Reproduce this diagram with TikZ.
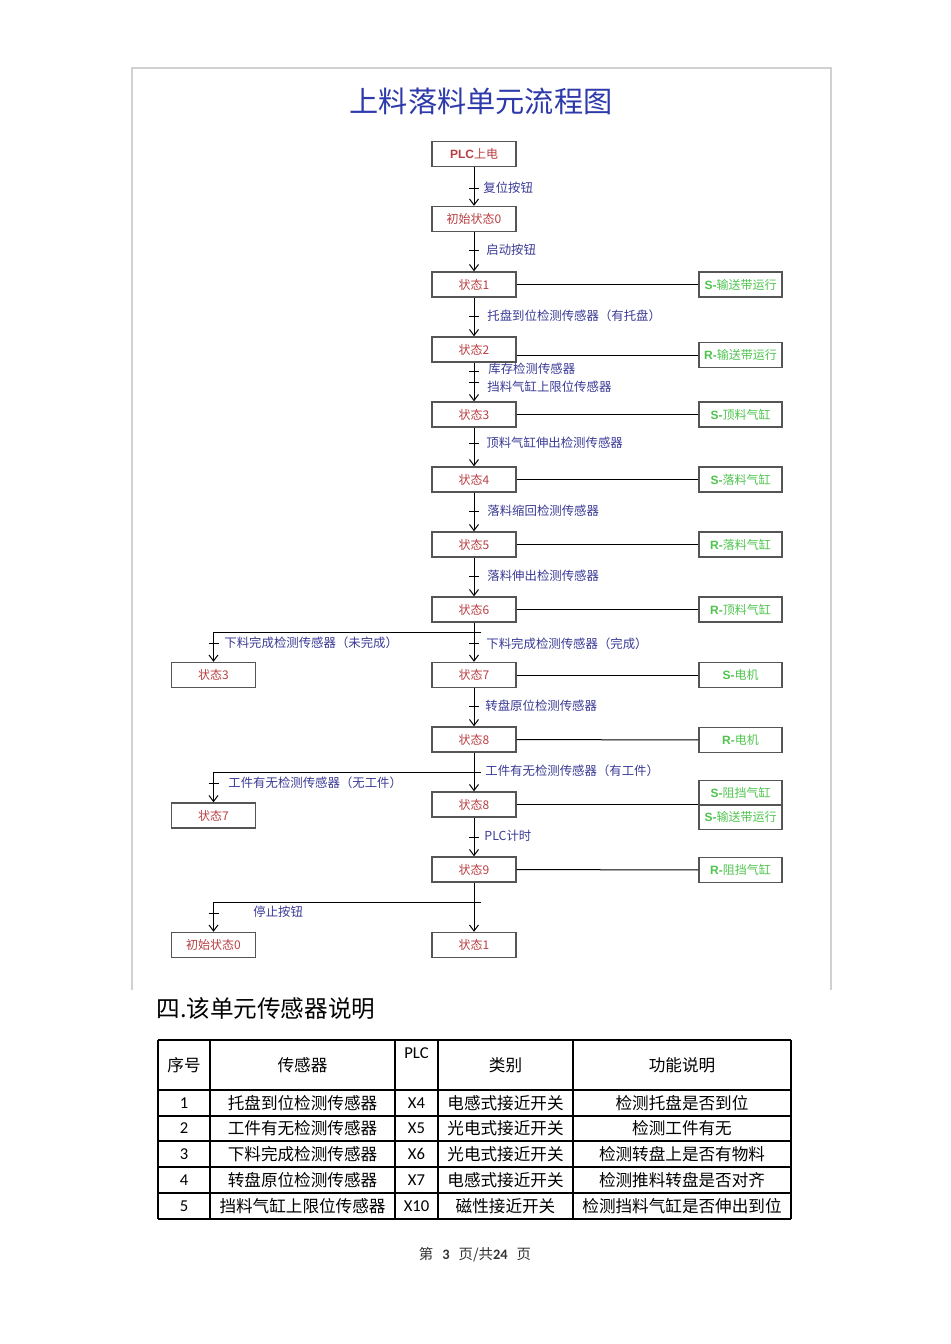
\documentclass[tikz,border=0pt]{standalone}
\usepackage{fontspec}
\newfontfamily\cjk{Noto Sans CJK SC}
\newfontfamily\arialf{Liberation Sans}
\newfontfamily\carl{Carlito}
\usetikzlibrary{arrows.meta}
\definecolor{titleblue}{RGB}{46,58,170}
\definecolor{statered}{RGB}{185,62,66}
\definecolor{actgreen}{RGB}{78,196,78}
\definecolor{condblue}{RGB}{58,58,150}
\definecolor{boxgray}{RGB}{85,85,85}
\tikzset{
	stbox/.style={draw=boxgray, line width=0.7pt, minimum width=42pt, minimum height=12.5pt,
		inner sep=0pt, text=statered, font=\cjk\fontsize{6}{7}\selectfont},
	actbox/.style={stbox, text=actgreen, minimum width=41.5pt},
	cond/.style={anchor=west, inner sep=0pt, text=condblue, font=\cjk\fontsize{6.2}{7}\selectfont},
	flow/.style={line width=0.5pt, -{Straight Barb[length=3pt,width=4.5pt]}},
	link/.style={line width=0.5pt},
	tabtxt/.style={inner sep=0pt, font=\cjk\fontsize{8.3}{9}\selectfont},
}
\newcommand{\lat}[1]{{\arialf\bfseries #1}}

\begin{document}
\begin{tikzpicture}[x=0.5pt, y=-0.5pt, every node/.style={font=\cjk}]
	\useasboundingbox (0,0) rectangle (950,1344);

	% frame of the flow chart
	\draw[black!18, line width=0.6pt] (132,990) -- (132,68) -- (831,68) -- (831,990);
	\node[text=titleblue, font=\cjk\fontsize{14.6}{16}\selectfont] (title) at (481,101) {上料落料单元流程图};

	% main column
	\node[stbox] (plc) at (474,154) {\lat{PLC}上电};
	\node[stbox] (init) at (474,219) {初始状态0};
	\node[stbox] (s1) at (474,284.5) {状态1};
	\node[stbox] (s2) at (474,349.5) {状态2};
	\node[stbox] (s3) at (474,414.5) {状态3};
	\node[stbox] (s4) at (474,479.5) {状态4};
	\node[stbox] (s5) at (474,544.5) {状态5};
	\node[stbox] (s6) at (474,609.5) {状态6};
	\node[stbox] (s7) at (474,675) {状态7};
	\node[stbox] (s8a) at (474,739.5) {状态8};
	\node[stbox] (s8b) at (474,804.5) {状态8};
	\node[stbox] (s9) at (474,869.5) {状态9};
	\node[stbox] (s1b) at (474,945) {状态1};

	% left column
	\node[stbox] (l3) at (213.5,675) {状态3};
	\node[stbox] (l7) at (213.5,815.5) {状态7};
	\node[stbox] (l0) at (213.5,945) {初始状态0};

	% actions
	\node[actbox] (a1) at (740.5,284.5) {\lat{S-}输送带运行};
	\node[actbox] (a2) at (740.5,355) {\lat{R-}输送带运行};
	\node[actbox] (a3) at (740.5,414.5) {\lat{S-}顶料气缸};
	\node[actbox] (a4) at (740.5,479.5) {\lat{S-}落料气缸};
	\node[actbox] (a5) at (740.5,544.5) {\lat{R-}落料气缸};
	\node[actbox] (a6) at (740.5,609.5) {\lat{R-}顶料气缸};
	\node[actbox] (a7) at (740.5,675) {\lat{S-}电机};
	\node[actbox] (a8) at (740.5,740) {\lat{R-}电机};
	\node[actbox] (a9) at (740.5,793) {\lat{S-}阻挡气缸};
	\node[actbox] (a10) at (740.5,817) {\lat{S-}输送带运行};
	\node[actbox] (a11) at (740.5,870) {\lat{R-}阻挡气缸};

	\draw[link] (s1) -- (a1);
	\draw[link] (s2.east |- a2) -- (a2);
	\draw[link] (s3) -- (a3);
	\draw[link] (s4) -- (a4);
	\draw[link] (s5) -- (a5);
	\draw[link] (s6) -- (a6);
	\draw[link] (s7) -- (a7);
	\draw[link] (s8a) -- (a8);
	\draw[link] (s8b) -- (s8b -| a9.west);
	\draw[link] (s9) -- (a11);

	% steps
	\draw[flow] (plc) -- (init);
	\draw[flow] (init) -- (s1);
	\draw[flow] (s1) -- (s2);
	\draw[flow] (s2) -- (s3);
	\draw[flow] (s3) -- (s4);
	\draw[flow] (s4) -- (s5);
	\draw[flow] (s5) -- (s6);
	\draw[flow] (s6) -- (s7);
	\draw[flow] (s7) -- (s8a);
	\draw[flow] (s8a) -- (s8b);
	\draw[flow] (s8b) -- (s9);
	\draw[flow] (s9) -- (s1b);

	% branches
	\coordinate (b1) at (481,632);
	\coordinate (b2) at (481,772);
	\coordinate (b3) at (481,902);
	\draw[flow] (b1) -| (l3);
	\draw[flow] (b2) -| (l7);
	\draw[flow] (b3) -| (l0);

	% transition bars
	\foreach \ty in {188,250,316,371,382,443,511,576,643,706,837}
		\draw[link] (469,\ty) -- (479,\ty);
	\foreach \ty in {643,783,913}
		\draw[link] (208.5,\ty) -- (218.5,\ty);

	\node[cond] (c1) at (483,188) {复位按钮};
	\node[cond] (c2) at (486,250) {启动按钮};
	\node[cond] (c3) at (487,316) {托盘到位检测传感器（有托盘）};
	\node[cond] (c4) at (488,369) {库存检测传感器};
	\node[cond] (c5) at (487,387) {挡料气缸上限位传感器};
	\node[cond] (c6) at (486,443) {顶料气缸伸出检测传感器};
	\node[cond] (c7) at (487,511) {落料缩回检测传感器};
	\node[cond] (c8) at (487,576) {落料伸出检测传感器};
	\node[cond] (c9) at (486,644) {下料完成检测传感器（完成）};
	\node[cond] (c10) at (224,643) {下料完成检测传感器（未完成）};
	\node[cond] (c11) at (485,706) {转盘原位检测传感器};
	\node[cond] (c12) at (485,771) {工件有无检测传感器（有工件）};
	\node[cond] (c13) at (228,783) {工件有无检测传感器（无工件）};
	\node[cond] (c14) at (484,836) {PLC计时};
	\node[cond] (c15) at (253,912) {停止按钮};

	% sensor table
	\node[anchor=west, inner sep=0pt, font=\cjk\fontsize{11.8}{13}\selectfont] (head) at (156,1009) {四.该单元传感器说明};
	\foreach \cx in {158,210,395,438,573,791}
		\draw[line width=0.65pt] (\cx,1040) -- (\cx,1219);
	\foreach \ry in {1040,1090,1116,1141,1167,1193,1219}
		\draw[line width=0.65pt] (158,\ry) -- (791,\ry);
	\node[tabtxt] (h1) at (184,1065) {序号};
	\node[tabtxt] (h2) at (302.5,1065) {传感器};
	\node[tabtxt, font=\carl\fontsize{8.3}{9}\selectfont] (h3) at (416.5,1053) {PLC};
	\node[tabtxt] (h4) at (505.5,1065) {类别};
	\node[tabtxt] (h5) at (682,1065) {功能说明};
	\foreach \n/\ry/\sen/\plcin/\kind/\func in {
		1/1103/托盘到位检测传感器/X4/电感式接近开关/检测托盘是否到位,
		2/1128.5/工件有无检测传感器/X5/光电式接近开关/检测工件有无,
		3/1154/下料完成检测传感器/X6/光电式接近开关/检测转盘上是否有物料,
		4/1180/转盘原位检测传感器/X7/电感式接近开关/检测推料转盘是否对齐,
		5/1206/挡料气缸上限位传感器/X10/磁性接近开关/检测挡料气缸是否伸出到位}{
		\node[tabtxt, font=\carl\fontsize{8.3}{9}\selectfont] (r\n a) at (184,\ry) {\n};
		\node[tabtxt] (r\n b) at (302.5,\ry) {\sen};
		\node[tabtxt, font=\carl\fontsize{8.3}{9}\selectfont] (r\n c) at (416.5,\ry) {\plcin};
		\node[tabtxt] (r\n d) at (505.5,\ry) {\kind};
		\node[tabtxt] (r\n e) at (682,\ry) {\func};
	}

	% page number
	\node[inner sep=0pt, text=black!80, font=\cjk\fontsize{7.2}{8}\selectfont] (page) at (475,1255)
		{第\hspace{4.5pt}{\carl\bfseries 3}\hspace{4.5pt}页/共{\carl\bfseries 24}\hspace{4.5pt}页};
\end{tikzpicture}
\end{document}
